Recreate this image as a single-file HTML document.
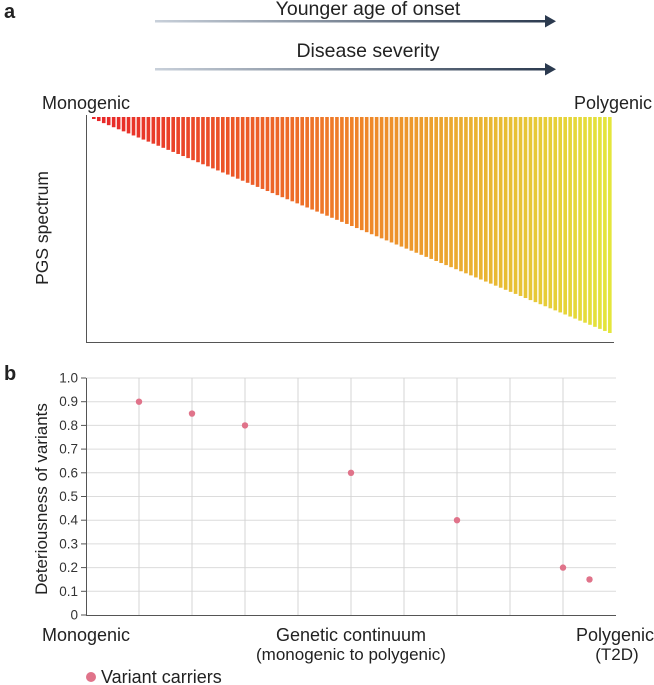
<!DOCTYPE html>
<html><head><meta charset="utf-8"><style>
body{margin:0;background:#fff;}
svg{display:block;font-family:"Liberation Sans",sans-serif;}
</style></head><body>
<svg id="fig" width="654" height="685" viewBox="0 0 654 685">
<defs>
<linearGradient id="arr" x1="0" x2="1"><stop offset="0" stop-color="#c8d0da"/><stop offset="1" stop-color="#2b3a4f"/></linearGradient>
</defs>
<text x="4" y="18" font-size="20" font-weight="bold" fill="#222">a</text>
<text x="368" y="15" font-size="19.5" text-anchor="middle" fill="#222">Younger age of onset</text>
<g><rect x="155" y="20" width="393" height="2.5" fill="url(#arr)"/><polygon points="545,15 556,21.2 545,27.5" fill="#2b3a4f"/></g>
<text x="368" y="57" font-size="19.5" text-anchor="middle" fill="#222">Disease severity</text>
<g><rect x="155" y="68" width="393" height="2.5" fill="url(#arr)"/><polygon points="545,63 556,69.2 545,75.5" fill="#2b3a4f"/></g>
<text x="42" y="109" font-size="18" fill="#222">Monogenic</text>
<text x="652" y="109" font-size="18" text-anchor="end" fill="#222">Polygenic</text>
<text transform="translate(48,228) rotate(-90)" font-size="17.5" text-anchor="middle" fill="#222">PGS spectrum</text>
<g id="bars"></g>
<line x1="86.5" y1="115" x2="86.5" y2="342" stroke="#555" stroke-width="1"/>
<line x1="86" y1="342.5" x2="614" y2="342.5" stroke="#555" stroke-width="1"/>

<text x="4" y="380" font-size="20" font-weight="bold" fill="#222">b</text>
<g id="grid"></g>
<g id="yticks"></g>
<text transform="translate(47,499) rotate(-90)" font-size="17" text-anchor="middle" fill="#222">Deteriousness of variants</text>
<g id="pts"></g>
<text x="42" y="641" font-size="18" fill="#222">Monogenic</text>
<text x="351" y="641" font-size="18" text-anchor="middle" fill="#222">Genetic continuum</text>
<text x="351" y="660" font-size="17" text-anchor="middle" fill="#222">(monogenic to polygenic)</text>
<text x="654" y="641" font-size="18" text-anchor="end" fill="#222">Polygenic</text>
<text x="617" y="660" font-size="17" text-anchor="middle" fill="#222">(T2D)</text>
<circle cx="91" cy="677" r="5" fill="#e0738a"/>
<text x="101" y="683" font-size="18" fill="#222">Variant carriers</text>
</svg>
<script>
const xPositions = [1, 2, 3, 5, 7, 9, 9.5];
const yValues = [0.9, 0.85, 0.8, 0.6, 0.4, 0.2, 0.15];
const yTicks = ["0","0.1","0.2","0.3","0.4","0.5","0.6","0.7","0.8","0.9","1.0"];
const barCount = 105;
const NS = "http://www.w3.org/2000/svg";
function sx(v){return 86 + v*53;}
function sy(v){return 615 - v*237;}
function mk(t,a,p){const e=document.createElementNS(NS,t);for(const k in a)e.setAttribute(k,a[k]);p.appendChild(e);return e;}
const bg=document.getElementById('bars');
function col(t){
  let r,g,b;
  if(t<0.5){const u=t/0.5;r=232+(240-232)*u;g=38+(130-38)*u;b=42+(40-42)*u;}
  else{const u=(t-0.5)/0.5;r=240+(228-240)*u;g=130+(230-130)*u;b=40+(60-40)*u;}
  return `rgb(${r|0},${g|0},${b|0})`;
}
for(let i=0;i<barCount;i++){
  const t=i/(barCount-1);
  const x=92+i*(521/barCount);
  const h=2+t*214;
  const r=mk('rect',{x:x.toFixed(2),y:117,width:3.6,height:h.toFixed(2),fill:col(t)},bg);
  
  
}
const gg=document.getElementById('grid');
for(let i=1;i<=10;i++){
  const l=mk('line',{x1:86,x2:616,y1:sy(i/10),y2:sy(i/10),stroke:'#dcdcdc','stroke-width':1},gg);
  
  
}
for(let i=1;i<=9;i++){
  const l=mk('line',{x1:sx(i),x2:sx(i),y1:sy(1),y2:sy(0),stroke:'#d4d4d4','stroke-width':1},gg);
  
  
}
const yt=document.getElementById('yticks');
mk('line',{x1:86.5,x2:86.5,y1:sy(1),y2:sy(0),stroke:'#555'},yt);
mk('line',{x1:86,x2:616,y1:sy(0)+0.5,y2:sy(0)+0.5,stroke:'#555'},yt);
yTicks.forEach((lab,i)=>{
  const y=sy(i/10);
  mk('line',{x1:81,x2:86,y1:y,y2:y,stroke:'#555'},yt);
  const t=mk('text',{x:78,y:y+4.5,'font-size':13.5,'text-anchor':'end',fill:'#333'},yt);
  t.textContent=lab;
  
  
});
const pg=document.getElementById('pts');
xPositions.forEach((xv,i)=>{
  const c=mk('circle',{cx:sx(xv),cy:sy(yValues[i]),r:3.2,fill:'#e0738a'},pg);
  
  
});
</script>
</body></html>
